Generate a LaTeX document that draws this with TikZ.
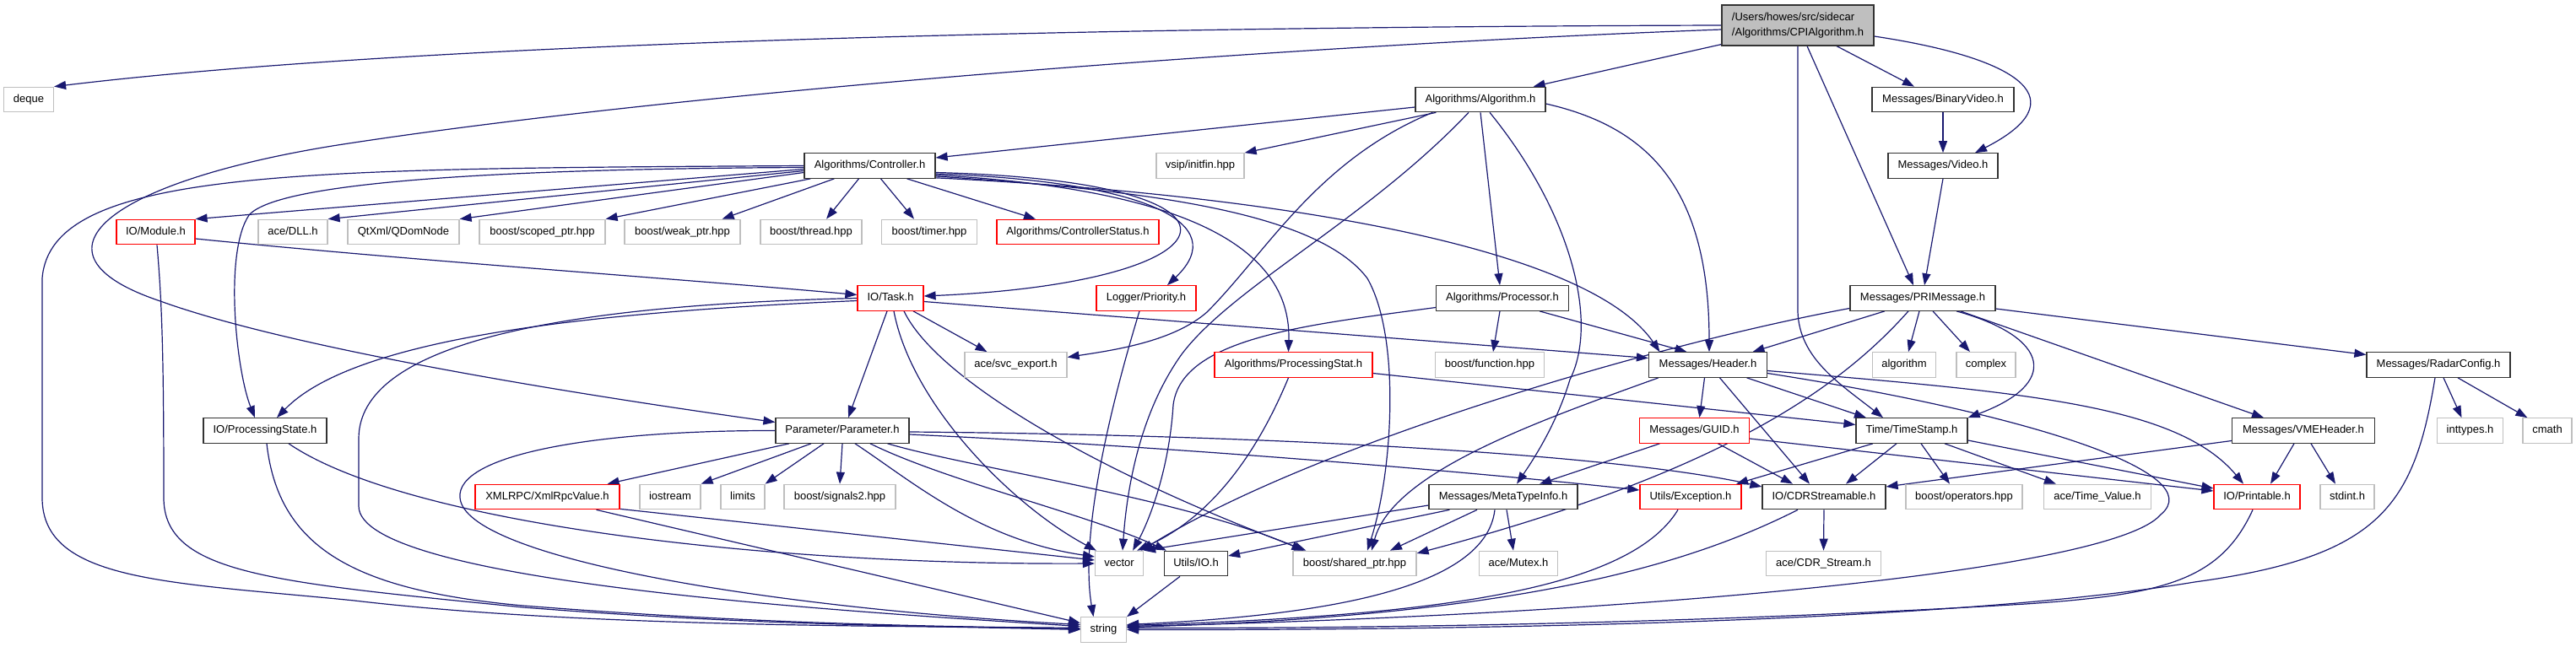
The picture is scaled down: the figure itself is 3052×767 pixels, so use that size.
\documentclass[tikz,border=0pt]{standalone}
\usepackage{fontspec}
\setmainfont{Liberation Sans}
\usetikzlibrary{arrows.meta,calc}
\definecolor{edgeblue}{HTML}{191970}
\definecolor{gbord}{HTML}{BFBFBF}
\definecolor{rootfill}{HTML}{BFBFBF}
\pgfdeclarelayer{bg}
\pgfsetlayers{bg,main}
\newcommand{\nodefont}{\fontsize{13}{15.6}\selectfont}
\tikzset{
  nbox/.style={draw, line width=1.2pt, fill=white, inner sep=0pt, minimum height=29.5pt,
    font=\nodefont, text=black, text height=9.4pt, text depth=2.7pt},
  doc/.style={nbox, draw=black!80},
  ext/.style={nbox, draw=gbord},
  trunc/.style={nbox, draw=red},
  dep/.style={draw=edgeblue, line width=1.2pt, -{Triangle[length=14pt,width=10pt]}},
}
\begin{document}
\begin{tikzpicture}[x=1pt,y=-1pt]
\useasboundingbox (0,0) rectangle (3052,767);
% row 0
\node[draw=black!80, line width=1.2pt, fill=rootfill, inner sep=0pt, minimum width=180pt, minimum height=48pt,
  align=left, font=\fontsize{13}{17.5}\selectfont] (root) at (2130,30) {/Users/howes/src/sidecar\\/Algorithms/CPIAlgorithm.h};
% row 1
\node[ext, minimum width=59pt] (deque) at (34,118) {deque};
\node[doc, minimum width=154pt] (alg) at (1754,118) {Algorithms/Algorithm.h};
\node[doc, minimum width=168pt] (binvid) at (2302,118) {Messages/BinaryVideo.h};
% row 2
\node[doc, minimum width=155pt] (ctrl) at (1030.5,196.5) {Algorithms/Controller.h};
\node[ext, minimum width=104pt] (vsip) at (1422,196.5) {vsip/initfin.hpp};
\node[doc, minimum width=130pt] (video) at (2302,196.5) {Messages/Video.h};
% row 3
\node[trunc, minimum width=93pt] (module) at (184.5,275) {IO/Module.h};
\node[ext, minimum width=82pt] (dll) at (347,275) {ace/DLL.h};
\node[ext, minimum width=132pt] (qdom) at (478,275) {QtXml/QDomNode};
\node[ext, minimum width=149pt] (scoped) at (642.5,275) {boost/scoped\_ptr.hpp};
\node[ext, minimum width=137pt] (weak) at (808.5,275) {boost/weak\_ptr.hpp};
\node[ext, minimum width=120pt] (thread) at (961,275) {boost/thread.hpp};
\node[ext, minimum width=113pt] (timer) at (1101,275) {boost/timer.hpp};
\node[trunc, minimum width=192pt] (cstatus) at (1277,275) {Algorithms/ControllerStatus.h};
% row 4
\node[trunc, minimum width=78pt] (task) at (1055,353.5) {IO/Task.h};
\node[trunc, minimum width=118pt] (prio) at (1358,353.5) {Logger/Priority.h};
\node[doc, minimum width=157pt] (proc) at (1780,353.5) {Algorithms/Processor.h};
\node[doc, minimum width=172pt] (pri) at (2278,353.5) {Messages/PRIMessage.h};
% row 5
\node[ext, minimum width=121pt] (svc) at (1203.5,432.5) {ace/svc\_export.h};
\node[trunc, minimum width=187pt] (pstat) at (1532.5,432.5) {Algorithms/ProcessingStat.h};
\node[ext, minimum width=129pt] (func) at (1765,432.5) {boost/function.hpp};
\node[doc, minimum width=140pt] (header) at (2023.5,432.5) {Messages/Header.h};
\node[ext, minimum width=75pt] (algo) at (2256,432.5) {algorithm};
\node[ext, minimum width=70pt] (complex) at (2353,432.5) {complex};
\node[doc, minimum width=170pt] (radar) at (2889,432.5) {Messages/RadarConfig.h};
% row 6
\node[doc, minimum width=146pt] (pstate) at (314,510.5) {IO/ProcessingState.h};
\node[doc, minimum width=158pt] (param) at (998,510.5) {Parameter/Parameter.h};
\node[trunc, minimum width=130pt] (guid) at (2007.5,510.5) {Messages/GUID.h};
\node[doc, minimum width=132pt] (ts) at (2265,510.5) {Time/TimeStamp.h};
\node[doc, minimum width=169pt] (vme) at (2729,510.5) {Messages/VMEHeader.h};
\node[ext, minimum width=78pt] (inttypes) at (2926.5,510.5) {inttypes.h};
\node[ext, minimum width=58pt] (cmath) at (3018,510.5) {cmath};
% row 7
\node[trunc, minimum width=171pt] (xml) at (648.5,589) {XMLRPC/XmlRpcValue.h};
\node[ext, minimum width=72pt] (iostream) at (794,589) {iostream};
\node[ext, minimum width=52pt] (limits) at (880,589) {limits};
\node[ext, minimum width=132pt] (signals) at (995,589) {boost/signals2.hpp};
\node[doc, minimum width=176pt] (meta) at (1781,589) {Messages/MetaTypeInfo.h};
\node[trunc, minimum width=120pt] (exc) at (2003,589) {Utils/Exception.h};
\node[doc, minimum width=146pt] (cdr) at (2161,589) {IO/CDRStreamable.h};
\node[ext, minimum width=138pt] (ops) at (2327,589) {boost/operators.hpp};
\node[ext, minimum width=127pt] (tv) at (2485,589) {ace/Time\_Value.h};
\node[trunc, minimum width=102pt] (printable) at (2674,589) {IO/Printable.h};
\node[ext, minimum width=64pt] (stdint) at (2781,589) {stdint.h};
% row 8
\node[ext, minimum width=57pt] (vector) at (1326,668) {vector};
\node[doc, minimum width=75pt] (uio) at (1417,668) {Utils/IO.h};
\node[ext, minimum width=146pt] (shared) at (1605,668) {boost/shared\_ptr.hpp};
\node[ext, minimum width=93pt] (mutex) at (1799,668) {ace/Mutex.h};
\node[ext, minimum width=136pt] (cdrs) at (2160.5,668) {ace/CDR\_Stream.h};
% row 9
\node[ext, minimum width=54pt] (string) at (1307.5,746.5) {string};

\begin{pgfonlayer}{bg}
% root
\path[dep] (root.west) .. controls (1300,32) and (500,50) .. (deque.north east);
\path[dep] ($(root.west)+(0,5)$) .. controls (1500,55) and (800,110) .. (400,172) .. controls (130,215) and (20,300) .. (190,357) .. controls (350,415) and (700,470) .. ($(param.west)+(0,-10)$);
\path[dep] ($(root.south west)+(0,-2)$) -- ($(alg.north east)+(-15,0)$);
\path[dep] (root.south) -- (2130,370) .. controls (2132,425) and (2180,455) .. ($(ts.north)+(-34,0)$);
\path[dep] ($(root.south)+(11,0)$) -- ($(pri.north)+(-11,0)$);
\path[dep] ($(root.south)+(46,0)$) -- ($(binvid.north)+(-34,0)$);
\path[dep] ($(root.east)+(0,13)$) .. controls (2400,70) and (2460,120) .. ($(video.north)+(38,0)$);
\path[dep] (binvid.south) -- (video.north);
\path[dep] (video.south) -- ($(pri.north)+(2,0)$);
% Algorithm.h
\path[dep] ($(alg.west)+(0,9)$) -- ($(ctrl.east)+(0,-9.5)$);
\path[dep] ($(alg.south west)+(25,0)$) -- (vsip.north east);
\path[dep] ($(alg.south west)+(21,0)$) .. controls (1560,190) and (1500,300) .. (1430,370) .. controls (1390,405) and (1320,415) .. ($(svc.east)+(0,-9)$);
\path[dep] ($(alg.south)+(-14,0)$) .. controls (1620,260) and (1460,340) .. (1400,420) .. controls (1350,490) and (1335,580) .. ($(vector.north)+(4,0)$);
\path[dep] (alg.south) -- ($(proc.north)+(-3,0)$);
\path[dep] ($(alg.east)+(0,5)$) .. controls (1950,150) and (2025,220) .. ($(header.north)+(1.5,0)$);
\path[dep] ($(alg.south)+(11,0)$) .. controls (1860,250) and (1895,380) .. (1860,450) .. controls (1845,500) and (1820,540) .. ($(meta.north)+(16,0)$);
% Controller.h
\path[dep] ($(ctrl.west)+(0,4)$) -- (module.north east);
\path[dep] ($(ctrl.west)+(0,6)$) -- (dll.north east);
\path[dep] ($(ctrl.west)+(0,8)$) -- (qdom.north east);
\path[dep] ($(ctrl.south west)+(8,0)$) -- (scoped.north east);
\path[dep] ($(ctrl.south west)+(36,0)$) -- ($(weak.north east)+(-22,0)$);
\path[dep] ($(ctrl.south)+(-13,0)$) -- ($(thread.north)+(18,0)$);
\path[dep] ($(ctrl.south)+(13,0)$) -- ($(timer.north)+(-18,0)$);
\path[dep] ($(ctrl.south)+(44,0)$) -- ($(cstatus.north)+(-50,0)$);
\path[dep] ($(ctrl.east)+(0,8)$) .. controls (1520,215) and (1470,335) .. ($(task.east)+(0,-2.5)$);
\path[dep] ($(ctrl.east)+(0,9.5)$) .. controls (1360,215) and (1460,265) .. ($(prio.north)+(25,0)$);
\path[dep] ($(ctrl.east)+(0,11)$) .. controls (1420,225) and (1530,300) .. ($(pstat.north)+(-6,0)$);
\path[dep] ($(ctrl.east)+(0,12.5)$) .. controls (1350,225) and (1560,250) .. (1620,330) .. controls (1660,400) and (1650,560) .. ($(shared.north)+(15,0)$);
\path[dep] ($(ctrl.south east)+(0,-1)$) .. controls (1500,230) and (1880,290) .. ($(header.north)+(-57,0)$);
\path[dep] ($(ctrl.west)+(0,2)$) .. controls (600,200) and (330,215) .. (295,255) .. controls (265,300) and (280,440) .. ($(pstate.north)+(-12,0)$);
\path[dep] (ctrl.west) .. controls (350,200) and (60,200) .. (50,330) -- (50,590) .. controls (50,690) and (200,690) .. (420,712) .. controls (700,745) and (1100,742) .. ($(string.west)+(0,-2)$);
% Module.h
\path[dep] ($(module.east)+(0,8)$) .. controls (500,310) and (800,330) .. ($(task.west)+(0,-4)$);
\path[dep] ($(module.south)+(1.5,0)$) .. controls (192,360) and (194,420) .. (194,590) .. controls (194,680) and (320,690) .. (620,720) .. controls (900,742) and (1100,742) .. (string.west);
% Task.h
\path[dep] ($(task.south)+(-4,0)$) -- ($(param.north)+(7,0)$);
\path[dep] ($(task.south)+(27,0)$) -- ($(svc.north)+(-34,0)$);
\path[dep] ($(task.east)+(0,4)$) -- ($(header.west)+(0,-8)$);
\path[dep] ($(task.west)+(0,3)$) .. controls (700,370) and (420,400) .. ($(pstate.north)+(14,0)$);
\path[dep] (task.west) .. controls (650,362) and (425,410) .. (425,520) -- (425,600) .. controls (425,690) and (1000,725) .. ($(string.west)+(0,-4)$);
\path[dep] ($(task.south)+(4,0)$) .. controls (1080,480) and (1200,600) .. ($(vector.north west)+(2,0)$);
\path[dep] ($(task.south)+(16,0)$) .. controls (1110,450) and (1300,560) .. ($(shared.north west)+(16,0)$);
% Priority.h
\path[dep] ($(prio.south)+(-8,0)$) .. controls (1310,500) and (1280,640) .. ($(string.north)+(-12,0)$);
% Processor.h
\path[dep] ($(proc.south)+(-3,0)$) -- ($(func.north)+(4,0)$);
\path[dep] ($(proc.south)+(44,0)$) -- ($(header.north)+(-25,0)$);
\path[dep] ($(proc.west)+(0,11)$) .. controls (1550,385) and (1400,400) .. (1390,480) .. controls (1385,560) and (1360,620) .. ($(vector.north east)+(-13,0)$);
% PRIMessage.h
\path[dep] ($(pri.west)+(0,12)$) .. controls (1950,410) and (1550,530) .. ($(vector.north east)+(-3,0)$);
\path[dep] ($(pri.south)+(-45,0)$) -- ($(header.north)+(53,0)$);
\path[dep] ($(pri.south)+(-17,0)$) .. controls (2180,460) and (2040,560) .. ($(shared.east)+(0,-12)$);
\path[dep] ($(pri.south)+(-4,0)$) -- ($(algo.north)+(5,0)$);
\path[dep] ($(pri.south)+(12,0)$) -- ($(complex.north)+(-19,0)$);
\path[dep] ($(pri.south)+(40,0)$) .. controls (2430,400) and (2440,455) .. (ts.north east);
\path[dep] ($(pri.south east)+(-42,0)$) -- ($(vme.north)+(-47,0)$);
\path[dep] ($(pri.east)+(0,12.5)$) -- ($(radar.west)+(0,-12)$);
% Header.h
\path[dep] ($(header.south)+(-4,0)$) -- ($(guid.north)+(6,0)$);
\path[dep] ($(header.south)+(46,0)$) -- ($(ts.north)+(-54,0)$);
\path[dep] ($(header.south)+(14,0)$) -- ($(cdr.north)+(-17,0)$);
\path[dep] ($(header.south west)+(12,0)$) .. controls (1820,500) and (1650,560) .. ($(shared.north)+(20,0)$);
\path[dep] ($(header.east)+(0,7)$) .. controls (2400,465) and (2580,480) .. ($(printable.north)+(-16,0)$);
\path[dep] ($(header.east)+(0,10)$) .. controls (2400,490) and (2620,560) .. (2560,610) .. controls (2500,680) and (1900,730) .. ($(string.east)+(0,-4)$);
% GUID.h
\path[dep] ($(guid.south)+(-41,0)$) -- ($(meta.north)+(43,0)$);
\path[dep] ($(guid.south)+(28,0)$) -- ($(cdr.north)+(-37,0)$);
\path[dep] ($(guid.east)+(0,9.5)$) -- ($(printable.west)+(0,-7)$);
% TimeStamp.h
\path[dep] ($(ts.south)+(-46,0)$) -- ($(exc.north)+(54,0)$);
\path[dep] ($(ts.south)+(-18,0)$) -- ($(cdr.north)+(26,0)$);
\path[dep] ($(ts.south)+(11,0)$) -- ($(ops.north)+(-17,0)$);
\path[dep] ($(ts.south)+(39,0)$) -- ($(tv.north west)+(15,0)$);
\path[dep] ($(ts.east)+(0,11.5)$) -- ($(printable.west)+(0,-10)$);
% ProcessingStat.h
\path[dep] ($(pstat.east)+(0,10)$) -- ($(ts.west)+(0,-7)$);
\path[dep] ($(pstat.south)+(-6,0)$) .. controls (1480,560) and (1420,620) .. ($(vector.north east)+(-8,0)$);
% Parameter.h
\path[dep] ($(param.south)+(-63,0)$) -- ($(xml.north east)+(-15,0)$);
\path[dep] ($(param.south)+(-37,0)$) -- (iostream.north east);
\path[dep] ($(param.south)+(-22,0)$) -- (limits.north east);
\path[dep] (param.south) -- (signals.north);
\path[dep] (param.west) .. controls (700,510) and (540,540) .. (545,590) .. controls (550,660) and (900,720) .. ($(string.west)+(0,-6)$);
\path[dep] ($(param.south)+(15,0)$) .. controls (1080,570) and (1160,640) .. ($(vector.west)+(0,-8)$);
\path[dep] ($(param.south)+(33,0)$) .. controls (1120,570) and (1290,610) .. ($(uio.north west)+(3,0)$);
\path[dep] ($(param.south east)+(-26,0)$) .. controls (1150,555) and (1400,590) .. ($(shared.north west)+(13,0)$);
\path[dep] ($(param.east)+(0,1.5)$) .. controls (1450,515) and (1900,535) .. ($(cdr.west)+(0,-12)$);
\path[dep] ($(param.east)+(0,4.5)$) .. controls (1400,530) and (1750,560) .. ($(exc.west)+(0,-8)$);
% XmlRpcValue.h
\path[dep] ($(xml.south east)+(0,-1)$) -- ($(vector.west)+(0,-4)$);
\path[dep] ($(xml.south)+(58,0)$) -- ($(string.west)+(0,-8)$);
% ProcessingState.h
\path[dep] ($(pstate.south)+(28,0)$) .. controls (480,620) and (900,670) .. (vector.west);
\path[dep] ($(pstate.south)+(2,0)$) .. controls (330,650) and (420,700) .. (620,718) .. controls (900,740) and (1100,742) .. ($(string.west)+(0,-1)$);
% MetaTypeInfo.h
\path[dep] ($(meta.west)+(0,10)$) -- (vector.north east);
\path[dep] ($(meta.south west)+(25,0)$) -- ($(uio.east)+(0,-9)$);
\path[dep] ($(meta.south)+(-31,0)$) -- ($(shared.north)+(42,0)$);
\path[dep] ($(meta.south)+(4,0)$) -- ($(mutex.north)+(-6,0)$);
\path[dep] ($(meta.south)+(-10,0)$) .. controls (1760,700) and (1560,730) .. ($(string.east)+(0,-6)$);
% leaves to string
\path[dep] ($(uio.south)+(-19,0)$) -- (string.north east);
\path[dep] ($(exc.south)+(-15,0)$) .. controls (1930,700) and (1700,730) .. ($(string.east)+(0,-5)$);
\path[dep] ($(cdr.south)+(-31,0)$) .. controls (2000,670) and (1800,730) .. ($(string.east)+(0,-3)$);
\path[dep] (cdr.south) -- (cdrs.north);
\path[dep] ($(printable.south)+(-5,0)$) .. controls (2630,690) and (2560,705) .. (2400,716) .. controls (2000,740) and (1600,745) .. ($(string.east)+(0,-2)$);
% RadarConfig.h
\path[dep] ($(radar.south)+(-4,0)$) .. controls (2860,600) and (2820,660) .. (2600,690) .. controls (2300,740) and (1700,747) .. (string.east);
\path[dep] ($(radar.south)+(6,0)$) -- ($(inttypes.north)+(-10,0)$);
\path[dep] ($(radar.south)+(23,0)$) -- ($(cmath.north west)+(6,0)$);
% VMEHeader.h
\path[dep] ($(vme.west)+(0,12)$) -- ($(cdr.east)+(0,-12)$);
\path[dep] ($(vme.south)+(-11,0)$) -- ($(printable.north)+(16,0)$);
\path[dep] ($(vme.south)+(9,0)$) -- ($(stdint.north)+(-14,0)$);
\end{pgfonlayer}
\end{tikzpicture}
\end{document}
